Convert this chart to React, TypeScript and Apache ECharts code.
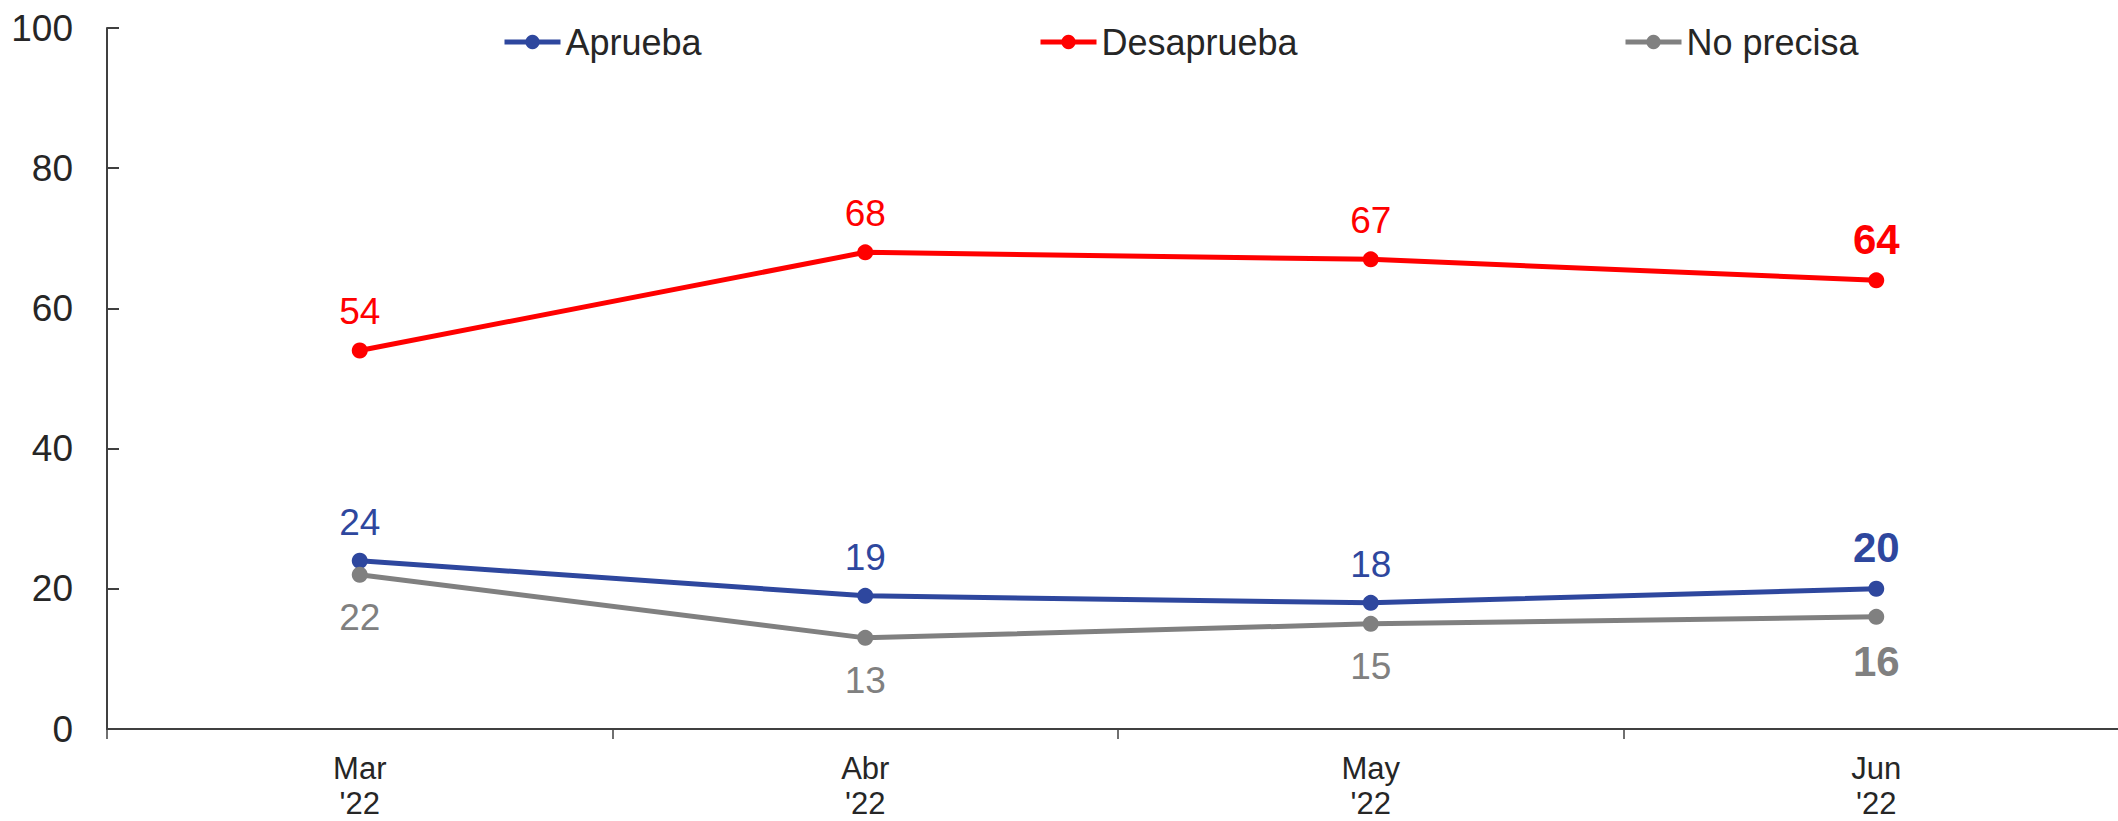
import React, { useEffect, useRef } from "react";
import * as echarts from "echarts";

const categories = ["Mar\n'22", "Abr\n'22", "May\n'22", "Jun\n'22"];
const aprueba = [24, 19, 18, 20];
const desaprueba = [54, 68, 67, 64];
const noPrecisa = [22, 13, 15, 16];
const yTicks = [0, 20, 40, 60, 80, 100];

const FONT = "'Liberation Sans', Arial, sans-serif";
const BLUE = "#2E479E";
const RED = "#FF0000";
const GRAY = "#808080";
const TEXT = "#262626";

function makeData(values: number[], color: string) {
  return values.map((v, i) =>
    i === values.length - 1
      ? { value: v, label: { fontWeight: "bold", fontSize: 42, color } }
      : v
  );
}

function makeSeries(name: string, values: number[], color: string, pos: "top" | "bottom") {
  return {
    name,
    type: "line",
    data: makeData(values, color),
    symbol: "circle",
    symbolSize: 16,
    lineStyle: { color, width: 5 },
    itemStyle: { color },
    label: {
      show: true,
      position: pos,
      distance: pos === "top" ? 12 : 16,
      color,
      fontSize: 37,
      fontFamily: FONT,
    },
  };
}

function legend(name: string, left: number) {
  return {
    data: [name],
    left,
    top: 19,
    itemWidth: 56,
    itemHeight: 18,
    lineStyle: { width: 5 },
    textStyle: { fontSize: 36, color: TEXT, fontFamily: FONT },
    selectedMode: false,
  };
}

export default function App() {
  const ref = useRef<HTMLDivElement>(null);
  useEffect(() => {
    if (!ref.current) return;
    const chart = echarts.init(ref.current, null, { renderer: "svg" });
    chart.setOption({
      animation: false,
      backgroundColor: "#ffffff",
      textStyle: { fontFamily: FONT },
      legend: [legend("Aprueba", 497), legend("Desaprueba", 1033), legend("No precisa", 1618)],
      grid: { left: 107, top: 28, width: 2022, height: 706 },
      xAxis: {
        type: "category",
        data: categories,
        boundaryGap: true,
        axisLine: { lineStyle: { color: "#404040", width: 2 } },
        axisTick: { show: true, length: 10, inside: false, lineStyle: { color: "#404040", width: 1.5 } },
        axisLabel: {
          margin: 22,
          fontSize: 31,
          lineHeight: 35,
          color: TEXT,
          fontFamily: FONT,
        },
      },
      yAxis: {
        type: "value",
        min: yTicks[0],
        max: yTicks[yTicks.length - 1],
        interval: 20,
        splitLine: { show: false },
        axisLine: { show: true, lineStyle: { color: "#404040", width: 2 } },
        axisTick: { show: true, inside: true, length: 12, lineStyle: { color: "#404040", width: 2 } },
        axisLabel: { margin: 34, fontSize: 37, color: TEXT, fontFamily: FONT },
      },
      series: [
        makeSeries("Aprueba", aprueba, BLUE, "top"),
        makeSeries("Desaprueba", desaprueba, RED, "top"),
        makeSeries("No precisa", noPrecisa, GRAY, "bottom"),
      ],
    });
    return () => chart.dispose();
  }, []);
  return (
    <div
      ref={ref}
      style={{ position: "fixed", left: 0, top: 0, width: 2140, height: 821, background: "#fff" }}
    />
  );
}
